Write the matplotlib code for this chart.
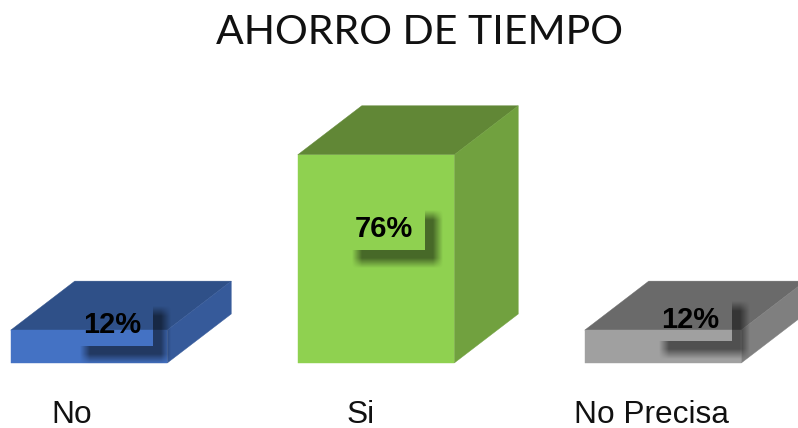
import matplotlib
matplotlib.use('Agg')
import matplotlib.pyplot as plt
from matplotlib.patches import Polygon
import numpy as np

categories = ['No', 'Si', 'No Precisa']
values = [12, 76, 12]
value_labels = ['12%', '76%', '12%']
title = 'AHORRO DE TIEMPO'

front_colors = ['#4472C4', '#8FD150', '#A0A0A0']
top_colors = ['#2F5088', '#618736', '#6A6A6A']
side_colors = ['#365A9A', '#71A13F', '#7F7F7F']

# layout in pixels of the 798x428 picture
W, H = 798, 428
base_px = 363
px_per_value = 2.74
first_center = 89
spacing = 287
bar_px = 156.5
depth_x, depth_y = 64, 49
label_dx = [23, 7.5, 27.5]      # value label offset from bar centre
label_up = [40, 136, 45]        # value label height over the baseline
cat_x = [72, 361, 651]


def to_x(px):
    return (px - first_center) / spacing


def to_y(px):
    return (base_px - px) / px_per_value


def ramp(a, lo, hi, soft=5.0):
    return np.clip((a - lo + soft) / (2 * soft), 0, 1) * np.clip((hi - a + soft) / (2 * soft), 0, 1)


def add_shadow(ax, cx, cy):
    # blurred drop shadow of the label box, box itself stays see-through
    xs = np.arange(cx - 45, cx + 70)
    ys = np.arange(cy - 35, cy + 55)
    gx, gy = np.meshgrid(xs + 0.5, ys + 0.5)
    a = ramp(gx, cx - 27, cx + 54) * ramp(gy, cy - 12, cy + 36) * 0.5
    a[(gx > cx - 32) & (gx < cx + 41) & (gy > cy - 22) & (gy < cy + 23)] = 0
    rgba = np.zeros(a.shape + (4,))
    rgba[..., 3] = a
    ax.imshow(rgba, extent=[to_x(xs[0]), to_x(xs[-1] + 1), to_y(ys[-1] + 1), to_y(ys[0])],
              origin='upper', aspect='auto', interpolation='bilinear', zorder=3)


fig = plt.figure(figsize=(W / 100, H / 100), dpi=100)
ax = fig.add_axes([0, 0, 1, 1])

dx = depth_x / spacing
dy = depth_y / px_per_value
w = bar_px / spacing

for i, v in enumerate(values):
    l = i - w / 2
    r = i + w / 2
    ax.add_patch(Polygon([(l, v), (r, v), (r + dx, v + dy), (l + dx, v + dy)], closed=True,
                         facecolor=top_colors[i], edgecolor=top_colors[i], linewidth=0.3, zorder=2))
    ax.add_patch(Polygon([(r, 0), (r + dx, dy), (r + dx, v + dy), (r, v)], closed=True,
                         facecolor=side_colors[i], edgecolor=side_colors[i], linewidth=0.3, zorder=2))
    ax.bar(i, v, width=w, color=front_colors[i], edgecolor=front_colors[i], linewidth=0.3, zorder=2)

    cx = first_center + i * spacing + label_dx[i]
    cy = base_px - label_up[i]
    add_shadow(ax, cx, cy)
    ax.text(to_x(cx), to_y(cy + 2), value_labels[i], family='Liberation Sans', fontweight='bold',
            fontsize=21, color='black', ha='center', va='center', zorder=4)
    ax.text(to_x(cat_x[i]), to_y(415), categories[i], family='Liberation Sans',
            fontsize=22.8, color='#111111', ha='center', va='center', zorder=4)

ax.text(to_x(419), to_y(32), title, family='Lato', fontsize=29.5, color='#111111',
        ha='center', va='center', zorder=4)

ax.set_xlim(to_x(0), to_x(W))
ax.set_ylim(to_y(H), to_y(0))
ax.axis('off')
plt.savefig('out.png', dpi=100)
